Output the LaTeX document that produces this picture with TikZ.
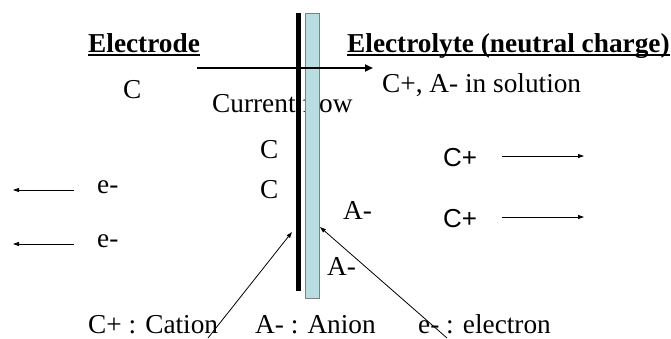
\documentclass[tikz,border=0pt]{standalone}
\usepackage{fontspec}
\setmainfont{Liberation Serif}
\newfontfamily\arialfont{Liberation Sans}
\usetikzlibrary{arrows.meta}
\definecolor{filmblue}{RGB}{185,222,226}
\newcommand{\headline}[1]{\setbox0\hbox{\bfseries #1}\rlap{\rule[-3.5pt]{\wd0}{1.8pt}}\box0}

\begin{document}
\begin{tikzpicture}[x=1pt, y=-1pt,
  label/.style={anchor=base west, inner sep=0pt, font=\fontsize{27.3}{31}\selectfont},
  ion/.style={label, font=\fontsize{26}{30}\arialfont},
  flow/.style={-{Triangle[length=8pt, width=7pt]}, line width=2pt},
  drift/.style={-{Triangle[length=6pt, width=4pt]}, line width=0.8pt}
]
  \useasboundingbox (0,0) rectangle (671,338);

  % headings
  \node[label] (electrode) at (88,52) {\headline{Electrode}};
  \node[label] (electrolyte) at (347,52) {\headline{Electrolyte (neutral charge)}};

  % electrode side
  \node[label] (c1) at (123,98) {C};
  \node[label] (current) at (212,112) {Current flow};
  \node[label] (c2) at (260,158) {C};
  \node[label] (c3) at (260,198) {C};
  \node[label] (e1) at (97,193) {e-};
  \node[label] (e2) at (97,247) {e-};

  % electrolyte side
  \node[label] (solution) at (382,92) {C+, A- in solution};
  \node[ion] (cp1) at (443,166) {C+};
  \node[ion] (cp2) at (443,227) {C+};
  \node[label] (a1) at (343,219) {A-};
  \node[label] (a2) at (327,275) {A-};

  % legend
  \node[label] (cation) at (88,333) {C+ : Cation};
  \node[label] (anion) at (255,333) {A- : Anion};
  \node[label] (electron) at (418,333) {e- : electron};

  % interface
  \node[fill=black, inner sep=0pt, minimum width=4.5, minimum height=278,
        anchor=north west] (metal) at (296,13) {};
  \node[fill=filmblue, draw=gray, line width=0.6pt, inner sep=0pt,
        minimum width=14, minimum height=285, anchor=north west] (film) at (305,13) {};

  % arrows
  \coordinate (flowstart) at (197,68);
  \coordinate (flowend) at (373,68);
  \draw[flow] (flowstart) -- (flowend);

  \coordinate (e1tip) at (13,190);
  \coordinate (e2tip) at (13,244);
  \draw[drift] (74,190) -- (e1tip);
  \draw[drift] (74,244) -- (e2tip);

  \coordinate (cp1tip) at (584,156);
  \coordinate (cp2tip) at (584,217);
  \draw[drift] (502,156) -- (cp1tip);
  \draw[drift] (502,217) -- (cp2tip);

  \coordinate (cationfoot) at (208,338);
  \coordinate (cationtip) at (292,232);
  \coordinate (electronfoot) at (447,338);
  \coordinate (electrontip) at (320,227);
  \draw[drift] (cationfoot) -- (cationtip);
  \draw[drift] (electronfoot) -- (electrontip);
\end{tikzpicture}
\end{document}
